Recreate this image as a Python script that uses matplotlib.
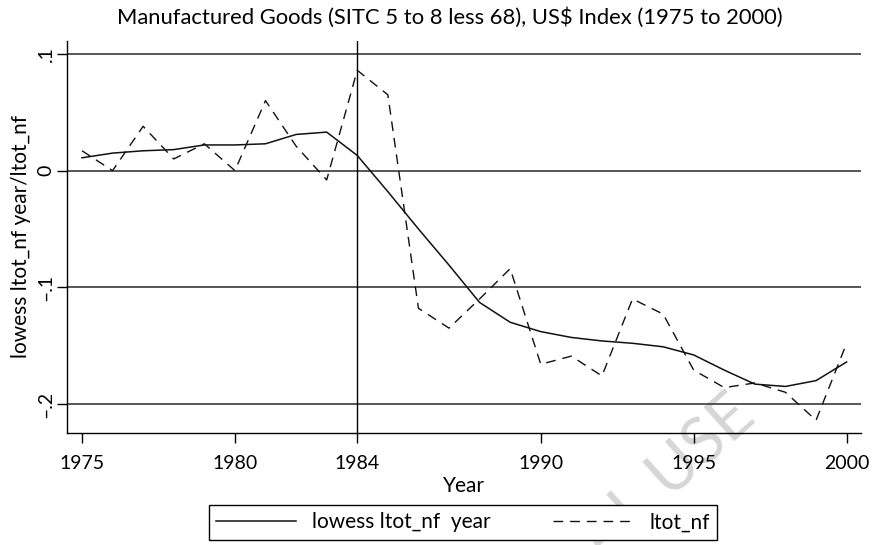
import matplotlib
matplotlib.use('Agg')
import matplotlib.pyplot as plt
import numpy as np

plt.rcParams['font.family'] = ['Lato', 'DejaVu Sans']

# -------------------------- data --------------------------
years = list(range(1975, 2001))
ltot_nf = [0.017, 0.000, 0.038, 0.010, 0.023, 0.000, 0.060, 0.021, -0.008, 0.086,
           0.065, -0.118, -0.135, -0.110, -0.084, -0.166, -0.159, -0.176, -0.110, -0.123,
           -0.171, -0.186, -0.182, -0.190, -0.214, -0.148]
lowess = [0.011, 0.015, 0.017, 0.018, 0.022, 0.022, 0.023, 0.031, 0.033, 0.013,
          -0.018, -0.050, -0.081, -0.113, -0.130, -0.138, -0.143, -0.146, -0.148, -0.151,
          -0.158, -0.171, -0.183, -0.185, -0.180, -0.164]
yticks = [-0.2, -0.1, 0.0, 0.1]
ytick_labels = ['\u2013.2', '\u2013.1', '0', '.1']
xticks = [1975, 1980, 1984, 1990, 1995, 2000]
break_year = 1984

title = 'Manufactured Goods (SITC 5 to 8 less 68), US$ Index (1975 to 2000)'

# -------------------------- figure --------------------------
fig = plt.figure(figsize=(8.72, 5.45), dpi=100)
ax = fig.add_axes([67/872, 1-433/545, (861-67)/872, (433-41)/545])
ax.set_facecolor('none')

for y in yticks:
    ax.axhline(y, color='#3a3a3a', linewidth=1.2, zorder=1)
ax.axvline(break_year, color='black', linewidth=1.0, zorder=2)

ax.plot(years, lowess, color='#111111', linewidth=1.1, label='lowess ltot_nf  year', zorder=3)
ax.plot(years, ltot_nf, color='#111111', linewidth=1.0, dashes=(7, 5), label='ltot_nf', zorder=3)

ax.set_xlim(1974.51, 2000.47)
ax.set_ylim(-0.2249, 0.1111)
ax.set_xticks(xticks)
ax.set_yticks(yticks)
ax.set_yticklabels(ytick_labels, rotation=90, va='center')
ax.tick_params(axis='both', length=7, width=1.0, labelsize=14, color='black')
ax.tick_params(axis='x', pad=9)
ax.tick_params(axis='y', pad=2)
ax.spines['top'].set_visible(False)
ax.spines['right'].set_visible(False)
ax.spines['left'].set_linewidth(1.0)
ax.spines['bottom'].set_linewidth(1.0)

ax.set_xlabel('Year', fontsize=15, labelpad=3)
ax.set_ylabel('lowess ltot_nf year/ltot_nf', fontsize=15, labelpad=5)

fig.text(450/872, 1-18/545, title, ha='center', va='center', fontsize=15.8)

leg = fig.legend(loc='upper center', bbox_to_anchor=(463/872, 1-505/545), ncol=2,
                 handlelength=3.8, handletextpad=0.8, columnspacing=3.0,
                 fontsize=15, frameon=True, fancybox=False, framealpha=1,
                 edgecolor='black', borderaxespad=0, borderpad=0.35)
leg.get_frame().set_linewidth(1.0)

# faint watermark visible in the lower right of the source
fig.text(668/872, 1-478/545, 'AL USE', ha='center', va='center', rotation=42,
         rotation_mode='anchor', fontsize=46, color='#d6d6d6', zorder=-1)

fig.savefig('out.png', dpi=100)
